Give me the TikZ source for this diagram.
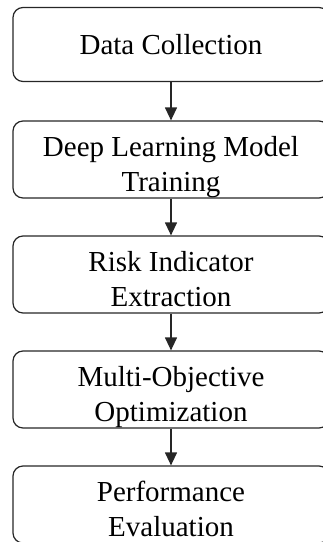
\documentclass[tikz,border=0pt]{standalone}
\usepackage{fontspec}
\setmainfont{Liberation Serif}
\usetikzlibrary{arrows.meta}
% fixed line extents so every two-line label sits at the same height in its box
\newcommand{\toprow}{\rule{0pt}{35pt}}
\newcommand{\lastrow}{\rule[-7pt]{0pt}{7pt}}
\begin{document}
\begin{tikzpicture}[x=1pt,y=-1pt,
  stagebox/.style={draw=black!85, line width=1.2pt, rounded corners=10pt,
    minimum width=316pt, minimum height=74pt, align=center,
    font=\fontsize{29}{35}\selectfont, inner sep=0pt},
  flow/.style={draw=black!85, line width=1.2pt,
    -{Triangle[width=12pt,length=13pt]}}]
  \useasboundingbox (0,0) rectangle (322,542);
  \node[stagebox] (collect)  at (171,44.5)  {Data Collection};
  \node[stagebox] (train)    at (171,159.5) {\toprow Deep Learning Model\\Training\lastrow};
  \node[stagebox] (extract)  at (171,274.5) {\toprow Risk Indicator\\Extraction\lastrow};
  \node[stagebox] (optim)    at (171,389.5) {\toprow Multi-Objective\\Optimization\lastrow};
  \node[stagebox] (evaluate) at (171,504.5) {\toprow Performance\\Evaluation\lastrow};
  \draw[flow] (collect) -- (train);
  \draw[flow] (train) -- (extract);
  \draw[flow] (extract) -- (optim);
  \draw[flow] (optim) -- (evaluate);
\end{tikzpicture}
\end{document}
